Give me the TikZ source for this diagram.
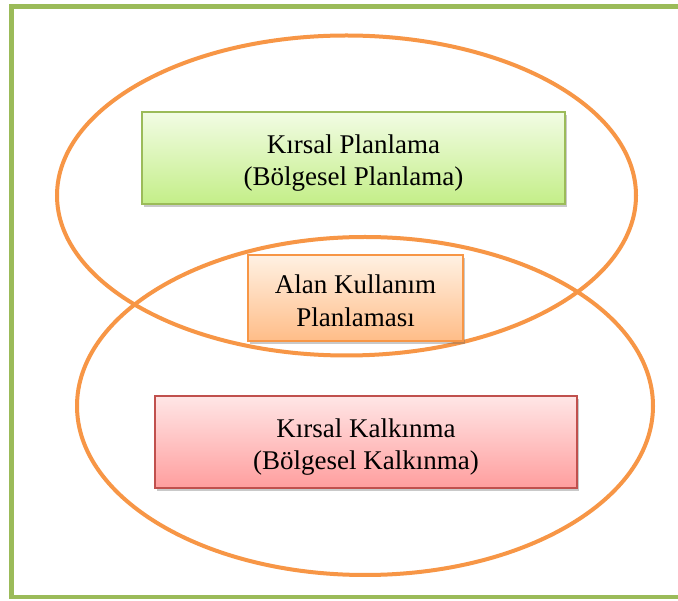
\documentclass[tikz,border=0pt]{standalone}
\usepackage{fontspec}
\setmainfont{Liberation Serif}
\usetikzlibrary{shadows}
\definecolor{frameGreen}{HTML}{9BBB59}
\definecolor{ringOrange}{HTML}{F79646}
\definecolor{gTop}{HTML}{F2FCE4}
\definecolor{gBot}{HTML}{C4EE88}
\definecolor{oTop}{HTML}{FFF1E3}
\definecolor{oBot}{HTML}{FFBD88}
\definecolor{rTop}{HTML}{FFE6E6}
\definecolor{rBot}{HTML}{FF9E9E}
\definecolor{rBorder}{HTML}{C0504D}
\tikzset{
  boxbase/.style={draw, line width=1.2pt, inner sep=0pt,
    drop shadow={shadow xshift=1.5pt, shadow yshift=-3pt, opacity=0.35, fill=black!60}},
  greenbox/.style={boxbase, draw=frameGreen, top color=gTop, bottom color=gBot},
  orangebox/.style={boxbase, draw=ringOrange, top color=oTop, bottom color=oBot},
  redbox/.style={boxbase, draw=rBorder, top color=rTop, bottom color=rBot},
  boxtext/.style={align=center, inner sep=0pt, font=\fontsize{27}{32.5}\selectfont},
  ring/.style={draw=ringOrange, line width=4pt}
}
\begin{document}
\begin{tikzpicture}[x=1pt,y=-1pt]
\useasboundingbox (0,0) rectangle (678,601);
\fill[white] (0,0) rectangle (678,601);
% frame
\draw[frameGreen, line width=4.5pt] (11.5,6.5) rectangle (690,597);
% ellipses
\draw[ring] (346.5,195.5) ellipse [x radius=289.5, y radius=160];
\draw[ring] (365,406) ellipse [x radius=288, y radius=169];
% boxes
\node[greenbox, minimum width=423pt, minimum height=92pt] (plan) at (353.5,158) {};
\node[orangebox, minimum width=215pt, minimum height=86pt] (alan) at (355.5,298) {};
\node[redbox, minimum width=422pt, minimum height=92pt] (kalk) at (366,442) {};
% texts
\node[boxtext] (planT) at ([yshift=-5pt]plan.center) {Kırsal Planlama\\(Bölgesel Planlama)};
\node[boxtext] (alanT) at ([yshift=-3pt]alan.center) {Alan Kullanım\\Planlaması};
\node[boxtext] (kalkT) at ([yshift=-5pt]kalk.center) {Kırsal Kalkınma\\(Bölgesel Kalkınma)};
\end{tikzpicture}
\end{document}
